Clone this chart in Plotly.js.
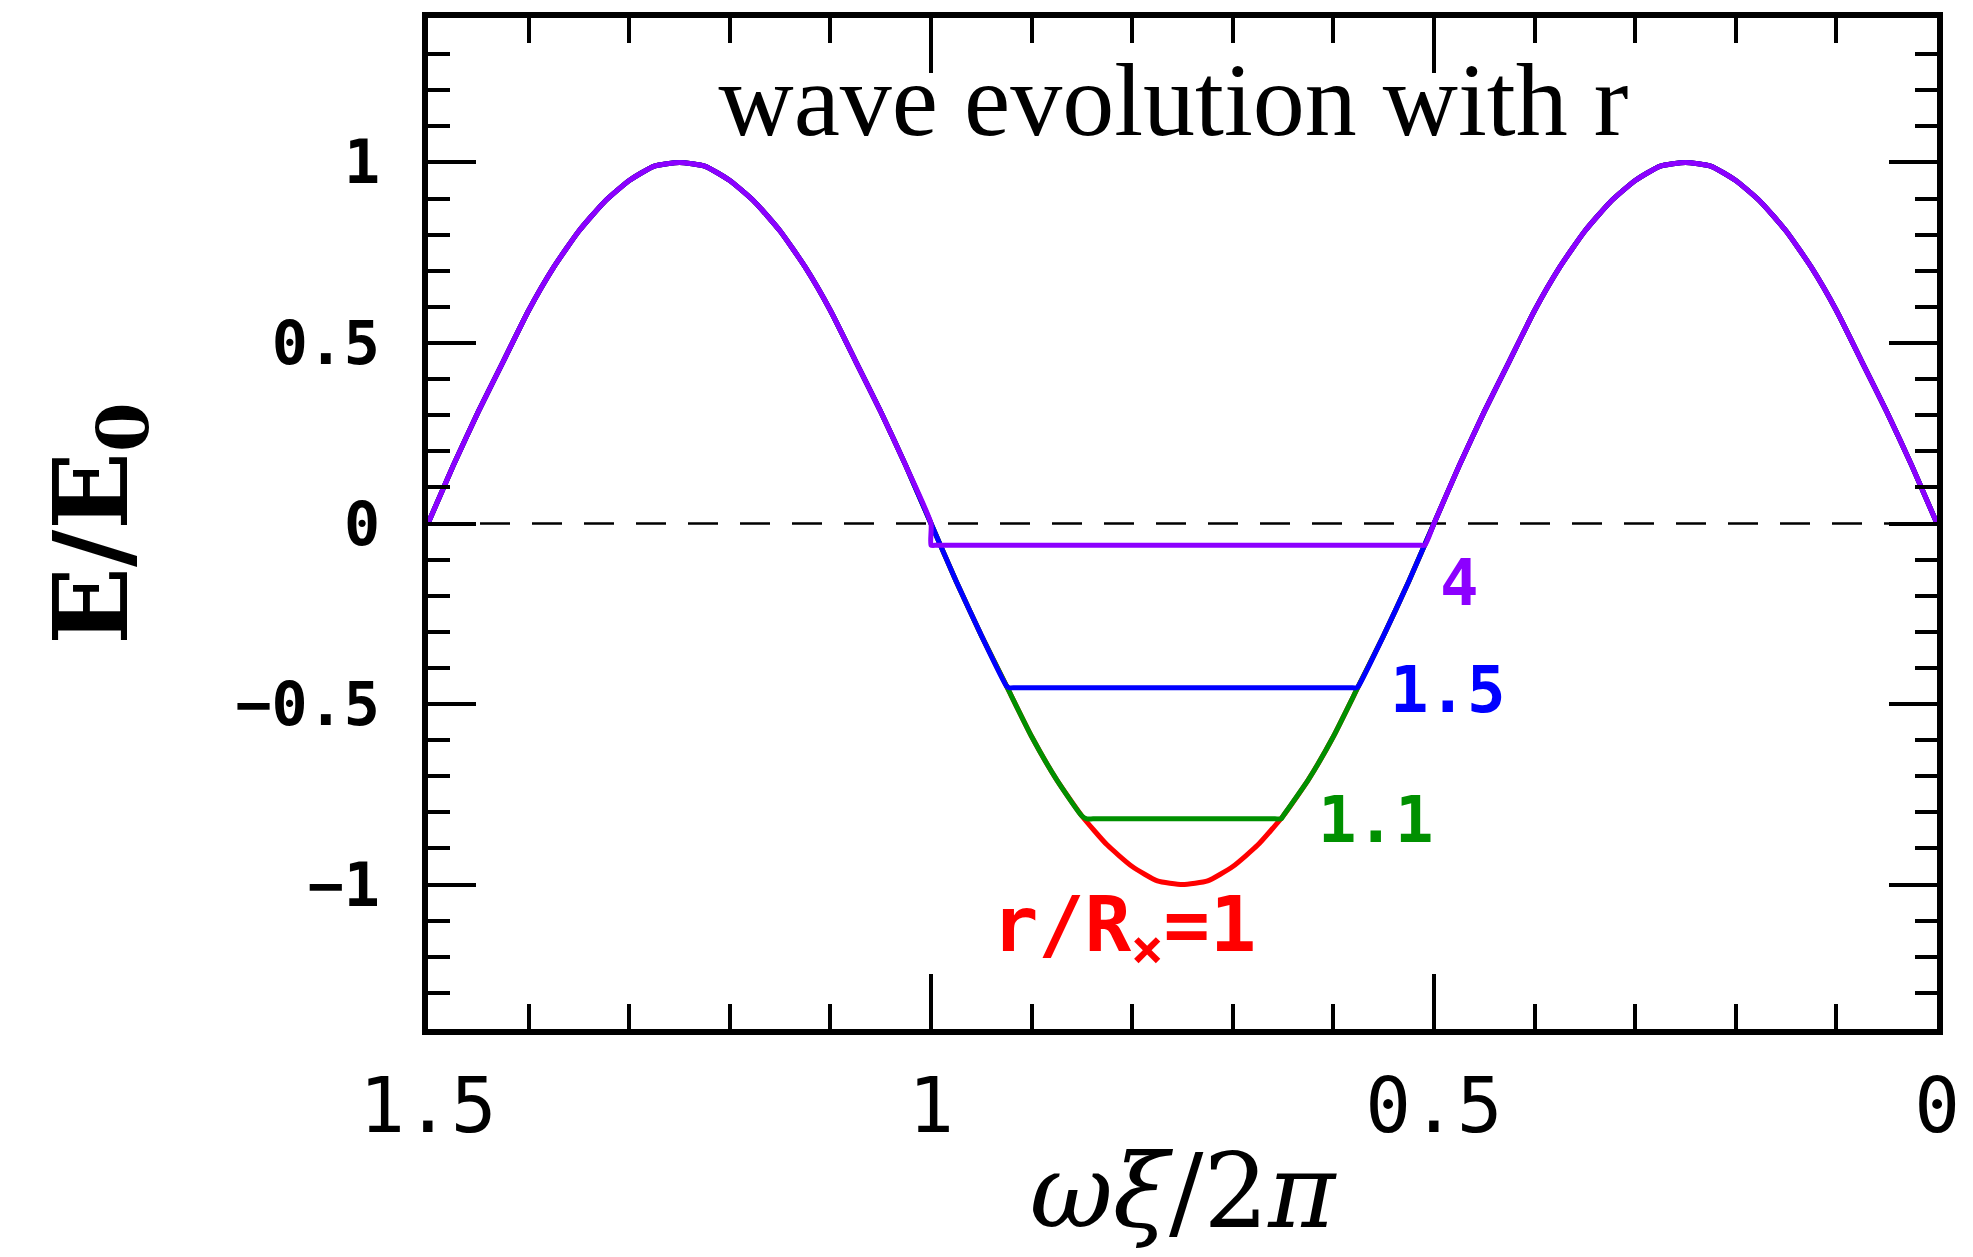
<!DOCTYPE html>
<html>
<head>
<meta charset="utf-8">
<script src="https://cdn.plot.ly/plotly-3.0.1.min.js"></script>
<style>
  html, body { margin: 0; padding: 0; background: #fff; }
  #chart { width: 1973px; height: 1257px; }
</style>
</head>
<body>
<div id="chart"></div>
<script>
// ---- data ----
// phase coordinate ωξ/2π (axis runs from 1.5 on the left to 0 on the right)
var phaseX = [
  1.5, 1.475, 1.45, 1.425, 1.4, 1.375, 1.35, 1.325, 1.3, 1.275,
  1.25, 1.225, 1.2, 1.175, 1.15, 1.125, 1.1, 1.075, 1.05, 1.025,
  1.0, 0.975, 0.95, 0.925, 0.9, 0.875, 0.85, 0.825, 0.8, 0.775,
  0.75, 0.725, 0.7, 0.675, 0.65, 0.625, 0.6, 0.575, 0.55, 0.525,
  0.5, 0.475, 0.45, 0.425, 0.4, 0.375, 0.35, 0.325, 0.3, 0.275,
  0.25, 0.225, 0.2, 0.175, 0.15, 0.125, 0.1, 0.075, 0.05, 0.025, 0.0
];
// E/E0 of the undisturbed wave (r/Rx = 1)
var waveE = [
  0.00, 0.16, 0.31, 0.45, 0.59, 0.71, 0.81, 0.89, 0.95, 0.99,
  1.00, 0.99, 0.95, 0.89, 0.81, 0.71, 0.59, 0.45, 0.31, 0.16,
  0.00, -0.16, -0.31, -0.45, -0.59, -0.71, -0.81, -0.89, -0.95, -0.99,
  -1.00, -0.99, -0.95, -0.89, -0.81, -0.71, -0.59, -0.45, -0.31, -0.16,
  0.00, 0.16, 0.31, 0.45, 0.59, 0.71, 0.81, 0.89, 0.95, 0.99,
  1.00, 0.99, 0.95, 0.89, 0.81, 0.71, 0.59, 0.45, 0.31, 0.16, 0.00
];
// curves for r/Rx = 1, 1.1, 1.5, 4
var curveLabels = ['r/R<sub>×</sub>=1', '1.1', '1.5', '4'];
var curveColors = ['#ff0000', '#009000', '#0000ff', '#8c00ff'];
// flattened trough of each curve: level and phase span (start, end)
var flatLevel = [null, -0.818, -0.455, -0.060];
var flatStart = [null, 0.845, 0.922, 1.000];
var flatEnd   = [null, 0.652, 0.577, 0.509];
// where each number is written
var labelX = [0.808, 0.558, 0.486, 0.475];
var labelY = [-1.125, -0.82, -0.46, -0.165];
var labelSize = [77, 64, 64, 64];

var zeroLevel = 0;
var xTickVals = [1.5, 1, 0.5, 0];
var xTickText = ['1.5', '1', '0.5', '0'];
var yTickVals = [-1, -0.5, 0, 0.5, 1];
var yTickText = ['\u22121', '\u22120.5', '0', '0.5', '1'];

// ---- build traces ----
// the flat part gets extra points right next to its ends so that the
// smoothed line stays level between them
var cornerGap = 0.006;
function buildCurve(i) {
  var xs = [], ys = [];
  if (flatLevel[i] === null) {
    return { x: phaseX.slice(), y: waveE.slice() };
  }
  var inserted = false;
  for (var k = 0; k < phaseX.length; k++) {
    var px = phaseX[k];
    if (px > flatStart[i] || (px === flatStart[i] && waveE[k] >= flatLevel[i])) {
      xs.push(px); ys.push(waveE[k]);
    } else if (px < flatEnd[i]) {
      if (!inserted) {
        xs.push(flatStart[i], flatStart[i] - cornerGap, flatEnd[i] + cornerGap, flatEnd[i]);
        ys.push(flatLevel[i], flatLevel[i], flatLevel[i], flatLevel[i]);
        inserted = true;
      }
      xs.push(px); ys.push(waveE[k]);
    }
  }
  return { x: xs, y: ys };
}

var traces = [];
for (var i = 0; i < curveLabels.length; i++) {
  var c = buildCurve(i);
  traces.push({
    type: 'scatter', mode: 'lines',
    x: c.x, y: c.y,
    line: { color: curveColors[i], width: 5, shape: 'spline', smoothing: 0.5 },
    hoverinfo: 'skip', showlegend: false
  });
}

var annotations = [];
for (var j = 0; j < curveLabels.length; j++) {
  annotations.push({
    x: labelX[j], y: labelY[j], xref: 'x', yref: 'y',
    text: curveLabels[j], showarrow: false,
    xanchor: 'center', yanchor: 'middle',
    font: { family: 'DejaVu Sans Mono', size: labelSize[j], weight: 'bold', color: curveColors[j] }
  });
}

var tickFont = 'DejaVu Sans Mono';

var layout = {
  width: 1973, height: 1257,
  margin: { l: 428, r: 36, t: 18, b: 228 },
  paper_bgcolor: '#fff', plot_bgcolor: '#fff',
  showlegend: false,
  title: {
    text: 'wave evolution with r',
    font: { family: 'Liberation Serif', size: 104, color: '#000' },
    xref: 'paper', yref: 'paper', x: 0.494, y: 0.92,
    xanchor: 'center', yanchor: 'middle'
  },
  xaxis: {
    range: [1.5, 0], autorange: false,
    tickmode: 'array', tickvals: xTickVals, ticktext: xTickText,
    ticks: 'inside', ticklen: 55, tickwidth: 4, tickcolor: '#000',
    minor: { dtick: 0.1, tick0: 0, ticks: 'inside', ticklen: 25, tickwidth: 4, tickcolor: '#000', showgrid: false },
    showline: true, linewidth: 6, linecolor: '#000', mirror: 'allticks',
    showgrid: false, zeroline: false,
    tickfont: { family: tickFont, size: 76, color: '#000' },
    ticklabelstandoff: 6,
    title: { text: '<i>ωξ</i>/2<i>π</i>', font: { family: 'DejaVu Serif', size: 102, color: '#000' }, standoff: 8 }
  },
  yaxis: {
    range: [-1.4, 1.4], autorange: false,
    tickmode: 'array', tickvals: yTickVals, ticktext: yTickText,
    ticks: 'inside', ticklen: 48, tickwidth: 4, tickcolor: '#000',
    minor: { dtick: 0.1, tick0: 0, ticks: 'inside', ticklen: 22, tickwidth: 4, tickcolor: '#000', showgrid: false },
    showline: true, linewidth: 6, linecolor: '#000', mirror: 'allticks',
    showgrid: false, zeroline: false,
    tickfont: { family: tickFont, size: 60, weight: 'bold', color: '#000' },
    ticklabelstandoff: 30,
    title: { text: 'E/E<sub>0</sub>', font: { family: 'DejaVu Serif', size: 102, weight: 'bold', color: '#000' }, standoff: 76 }
  },
  shapes: [{
    type: 'line', xref: 'paper', yref: 'y',
    x0: 0, x1: 1, y0: zeroLevel, y1: zeroLevel,
    line: { color: '#000', width: 2.5, dash: '30px,22px' },
    layer: 'below'
  }],
  annotations: annotations
};

Plotly.newPlot('chart', traces, layout, { staticPlot: true, displayModeBar: false });
</script>
</body>
</html>
